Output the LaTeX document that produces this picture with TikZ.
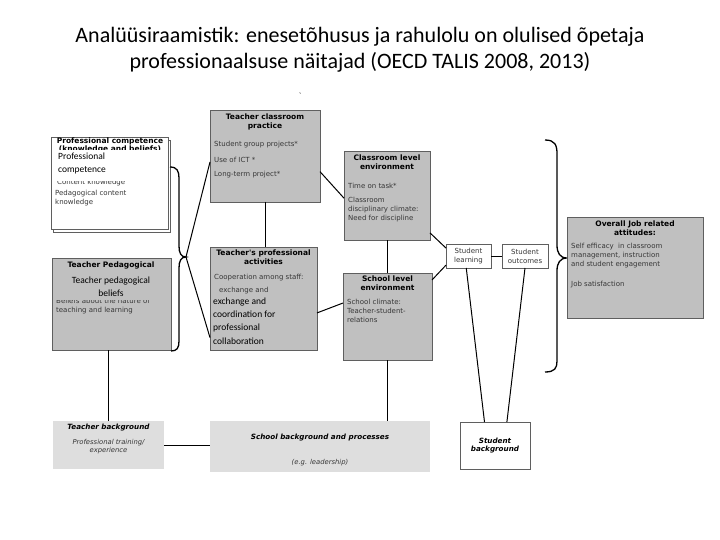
\documentclass[tikz,border=0pt]{standalone}
\usepackage{fontspec}
\setmainfont{Carlito}
\newfontfamily\vf{DejaVu Sans}
\usetikzlibrary{calc}
\definecolor{boxgray}{RGB}{192,192,192}
\definecolor{bglight}{RGB}{222,222,222}
\definecolor{edge}{RGB}{95,95,95}
\definecolor{txtgray}{RGB}{55,55,55}
\begin{document}
\begin{tikzpicture}[x=1pt,y=-1pt,
 gbox/.style={draw=edge, fill=boxgray, line width=0.7pt, anchor=north west, inner sep=0pt, outer sep=0pt},
 wbox/.style={draw=edge, fill=white, line width=0.7pt, anchor=north west, inner sep=0pt, outer sep=0pt},
 lbox/.style={fill=bglight, anchor=north west, inner sep=0pt, outer sep=0pt},
 hd/.style={font=\vf\bfseries\fontsize{7.5}{8.8}\selectfont, align=center, inner sep=0pt},
 hdi/.style={font=\vf\bfseries\itshape\fontsize{7.2}{8.8}\selectfont, align=center, inner sep=0pt},
 ti/.style={font=\vf\itshape\fontsize{6.8}{8.6}\selectfont, text=txtgray, align=center, inner sep=0pt},
 tx/.style={font=\vf\fontsize{7}{9}\selectfont, text=txtgray, align=left, anchor=west, inner sep=0pt},
 ov/.style={font=\fontsize{9.5}{13.3}\selectfont, align=left, anchor=west, inner sep=0pt},
 conn/.style={line width=1pt, black},
 bracel/.style={line width=1.3pt, black}
]
\useasboundingbox (0,0) rectangle (720,540);
\fill[white] (0,0) rectangle (720,540);

% title
\node[font=\fontsize{22}{26}\selectfont, align=center] (title) at (360,50)
 {Analüüsiraamistik: enesetõhusus ja rahulolu on olulised õpetaja\\professionaalsuse näitajad (OECD TALIS 2008, 2013)};
\node[font=\fontsize{8}{8}\selectfont, inner sep=0pt] (mark) at (300,96) {\textasciigrave};

% professional competence (white, double border)
\node[wbox, minimum width=117pt, minimum height=92pt] (pcs) at (53,140) {};
\node[wbox, minimum width=117pt, minimum height=92pt] (pc) at (51,137) {};
\node[hd, anchor=north] (pch) at (110,137.5) {Professional competence};
\node[hd, anchor=north] (pch2) at (110,146) {(knowledge and beliefs)};
\node[tx] (pcc) at (57,183) {Content knowledge};
\fill[white] (54,150.5) rectangle (166,181.5);
\node[ov] (pco) at (58,163.5) {Professional\\competence};
\node[tx] (pcp) at (55,198.5) {Pedagogical content\\knowledge};

% teacher pedagogical beliefs
\node[gbox, minimum width=119pt, minimum height=92pt] (tpb) at (52,258) {};
\node[hd, anchor=north] (tpbh) at (111,262) {Teacher Pedagogical};
\node[tx] (tpbt0) at (56,301) {Beliefs about the nature of};
\fill[boxgray] (54,272) rectangle (168,299.8);
\node[ov, align=center, anchor=center] (tpbo) at (111,287) {Teacher pedagogical\\beliefs};
\node[tx] (tpbt) at (56,311) {teaching and learning};

% teacher classroom practice
\node[gbox, minimum width=110pt, minimum height=92pt] (tcp) at (210,110) {};
\node[hd, anchor=north] (tcph) at (265,114) {Teacher classroom\\practice};
\node[tx] (tcpt) at (214,145) {Student group projects*};
\node[tx] (tcpt2) at (214,160) {Use of ICT *};
\node[tx] (tcpt3) at (214,175) {Long-term project*};

% teacher's professional activities
\node[gbox, minimum width=107pt, minimum height=103pt] (tpa) at (210,247) {};
\node[hd, anchor=north] (tpah) at (263.5,250) {Teacher's professional\\activities};
\node[tx] (tpat) at (214,278) {Cooperation among staff:};
\node[tx] (tpat2) at (219,291) {exchange and};
\fill[boxgray] (212,294.5) rectangle (314,298);
\node[ov] (tpao) at (213,321) {exchange and\\coordination for\\professional\\collaboration};

% classroom level environment
\node[gbox, minimum width=86pt, minimum height=89pt] (cle) at (344,151) {};
\node[hd, anchor=north] (cleh) at (387,155) {Classroom level\\environment};
\node[tx] (clet) at (348,186) {Time on task*};
\node[tx, anchor=north west] (clet2) at (348,197) {Classroom\\disciplinary climate:\\Need for discipline};

% school level environment
\node[gbox, minimum width=89pt, minimum height=87pt] (sle) at (343,273) {};
\node[hd, anchor=north] (sleh) at (387.5,276) {School level\\environment};
\node[tx, anchor=north west] (slet) at (347,299) {School climate:\\Teacher-student-\\relations};

% student learning / outcomes
\node[wbox, minimum width=45pt, minimum height=24pt] (sl) at (446,244) {};
\node[tx, anchor=center, align=center] (slt) at (468.5,256) {Student\\learning};
\node[wbox, minimum width=46pt, minimum height=24pt] (so) at (502,244) {};
\node[tx, anchor=center, align=center] (sot) at (525,256) {Student\\outcomes};

% overall job related attitudes
\node[gbox, minimum width=136pt, minimum height=101pt] (oja) at (567,217) {};
\node[hd, anchor=north] (ojah) at (635,221) {Overall Job related\\attitudes:};
\node[tx, anchor=north west] (ojat) at (571,243) {Self efficacy \ in classroom\\management, instruction\\and student engagement};
\node[tx] (ojat2) at (571,285) {Job satisfaction};

% background boxes
\node[lbox, minimum width=111pt, minimum height=48pt] (tb) at (53,421) {};
\node[hdi] (tbh) at (108.5,428) {Teacher background};
\node[ti] (tbt) at (108.5,446.5) {Professional training/\\experience};
\node[lbox, minimum width=220pt, minimum height=51pt] (sb) at (210,421) {};
\node[hdi] (sbh) at (320,438) {School background and processes};
\node[ti] (sbt) at (320,463) {(e.g. leadership)};
\node[wbox, minimum width=70pt, minimum height=47pt] (sbg) at (460,422) {};
\node[hdi] (sbgt) at (495,445.5) {Student\\background};

% braces
\coordinate (lb) at (186,257);
\draw[bracel] (170,167) .. controls (177,167) and (179,171) .. (179,178) -- (179,246)
 .. controls (179,253) and (181,257) .. (lb) .. controls (181,257) and (179,261) .. (179,268)
 -- (179,341) .. controls (179,348) and (177,351) .. (171,351);
\coordinate (rb) at (567,258);
\draw[bracel] (545,140) .. controls (555,140) and (557,145) .. (557,154) -- (557,245)
 .. controls (557,253) and (560,258) .. (rb) .. controls (560,258) and (557,263) .. (557,271)
 -- (557,361) .. controls (557,368) and (555,372) .. (545,372);

% connectors
\draw[conn] (lb) -- ($(tcp.north west)!0.565!(tcp.south west)$);
\draw[conn] (lb) -- ($(tpa.north west)!0.88!(tpa.south west)$);
\draw[conn] (tcp.south) -- (tcp.south |- tpa.north);
\draw[conn] ($(tcp.north east)!0.67!(tcp.south east)$) -- ($(cle.north west)!0.53!(cle.south west)$);
\draw[conn] ($(tpa.north east)!0.64!(tpa.south east)$) -- ($(sle.north west)!0.345!(sle.south west)$);
\draw[conn] (cle.south) -- (cle.south |- sle.north);
\draw[conn] ($(cle.north east)!0.92!(cle.south east)$) -- ($(sl.north west)!0.17!(sl.south west)$);
\draw[conn] ($(sle.north east)!0.08!(sle.south east)$) -- ($(sl.north west)!0.88!(sl.south west)$);
\draw[conn] (sl.east) -- (so.west);
\draw[conn] ($(sl.south west)!0.45!(sl.south east)$) -- ($(sbg.north west)!0.35!(sbg.north east)$);
\draw[conn] ($(so.south west)!0.5!(so.south east)$) -- ($(sbg.north west)!0.67!(sbg.north east)$);
\draw[conn] (tb.north |- tpb.south) -- (tb.north);
\draw[conn] ($(tpa.south west)!0.5!(tpa.south east)$) -- ($(tpa.south west)!0.5!(tpa.south east)$ |- sb.north);
\draw[conn] (sle.south) -- (sle.south |- sb.north);
\draw[conn] (tb.east) -- (tb.east -| sb.west);
\end{tikzpicture}
\end{document}
